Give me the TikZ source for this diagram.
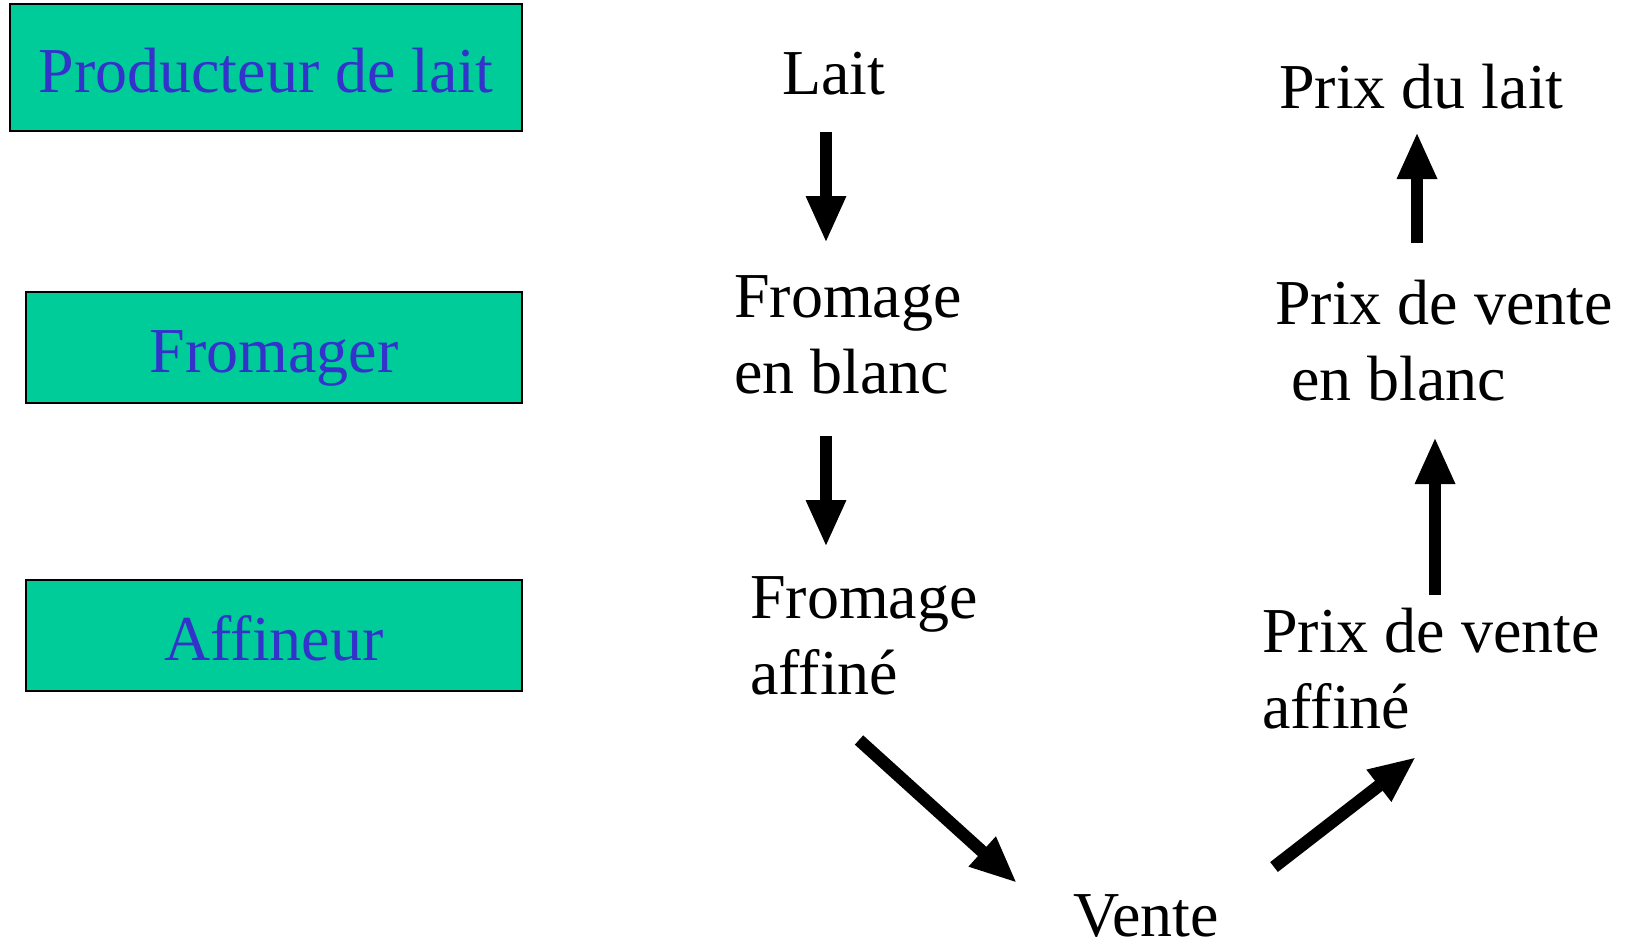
\documentclass[tikz,border=0pt]{standalone}
\usepackage{fontspec}
\setmainfont{Liberation Serif}
\usetikzlibrary{arrows.meta}
\definecolor{boxgreen}{RGB}{0,204,153}
\definecolor{boxblue}{RGB}{51,51,204}
\tikzset{
  rolebox/.style={draw=black, line width=2pt, fill=boxgreen, text=boxblue, inner sep=0pt,
    font=\fontsize{64}{76}\selectfont, text height=50pt, text depth=0pt},
  lbl/.style={inner sep=0pt, anchor=base west, align=left, font=\fontsize{64}{76}\selectfont},
  arr/.style={line width=12.5pt, -{Triangle[width=37pt,length=47pt]}}
}
\begin{document}
\begin{tikzpicture}[x=1pt,y=-1pt]
\useasboundingbox (0,0) rectangle (1630,942);
\node[rolebox, minimum width=512pt, minimum height=127pt] (prod) at (266,67.5) {Producteur de lait};
\node[rolebox, minimum width=496pt, minimum height=111pt] (from) at (274,347.5) {Fromager};
\node[rolebox, minimum width=496pt, minimum height=111pt] (aff) at (274,635.5) {Affineur};

\node[lbl] (lait) at (782,94) {Lait};
\node[lbl] (fblanc) at (734,393) {Fromage\\en blanc};
\node[lbl] (faff) at (750,694) {Fromage\\affiné};
\node[lbl] (vente) at (1073,936) {Vente};
\node[lbl] (plait) at (1279,108) {Prix du lait};
\node[lbl] (pblanc) at (1275,400) {Prix de vente\\\hspace*{16pt}en blanc};
\node[lbl] (paff) at (1262,728) {Prix de vente\\affiné};

\coordinate (a1s) at (826,132); \coordinate (a1e) at (826,243);
\coordinate (a2s) at (826,436); \coordinate (a2e) at (826,547);
\coordinate (a3s) at (859,740); \coordinate (a3e) at (1017,883);
\coordinate (a4s) at (1274,867); \coordinate (a4e) at (1416,757);
\coordinate (a5s) at (1435,595); \coordinate (a5e) at (1435,437);
\coordinate (a6s) at (1417,243); \coordinate (a6e) at (1417,132);

\draw[arr] (a1s) -- (a1e);
\draw[arr] (a2s) -- (a2e);
\draw[arr] (a3s) -- (a3e);
\draw[arr] (a4s) -- (a4e);
\draw[arr] (a5s) -- (a5e);
\draw[arr] (a6s) -- (a6e);
\end{tikzpicture}
\end{document}
